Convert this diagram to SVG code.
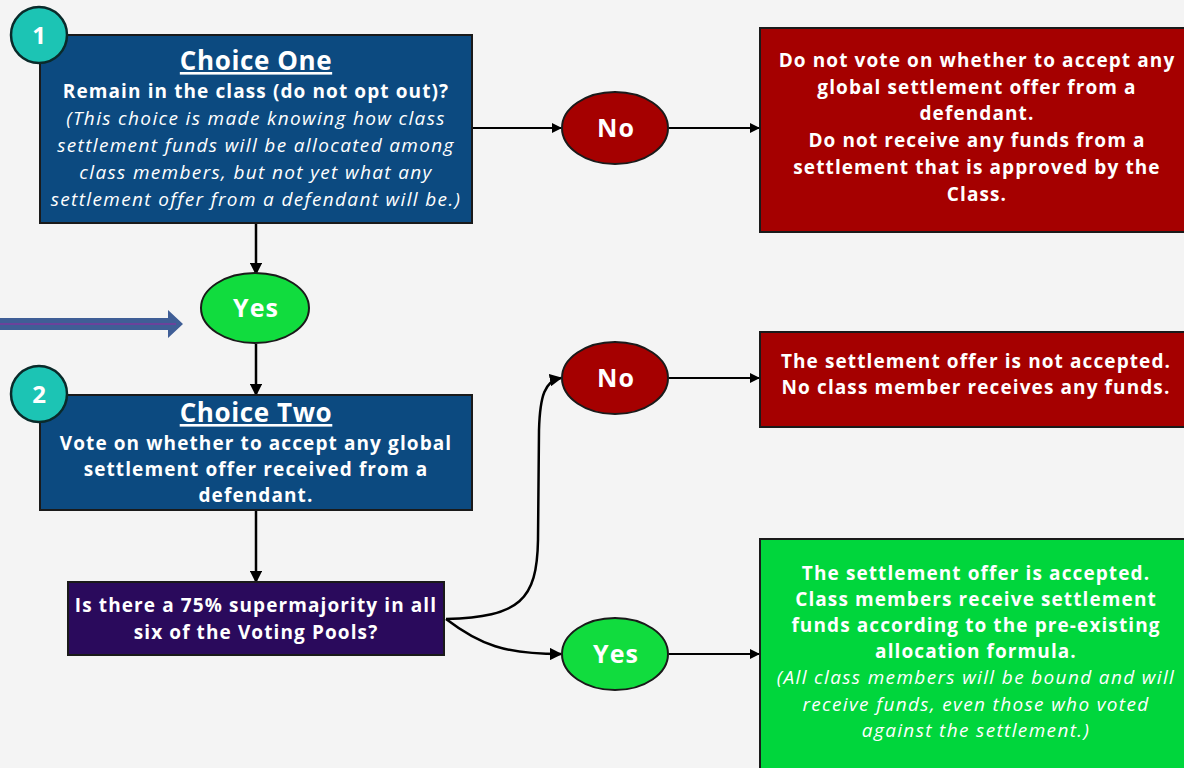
<svg xmlns="http://www.w3.org/2000/svg" width="1184" height="768" viewBox="0 0 1184 768">
<style>
.t{font-family:"Open Sans","Noto Sans","Liberation Sans",sans-serif;fill:#ffffff;text-anchor:middle}
.b{font-weight:bold;letter-spacing:1.1px}
.i{font-style:italic;letter-spacing:1.35px}
.h{font-size:26px;font-weight:bold;text-decoration:underline;letter-spacing:0.6px}
.f{font-size:19px}
.e{font-size:25px;font-weight:bold;letter-spacing:1px}
.box{stroke:#1a1a1a;stroke-width:2}
.con{fill:none;stroke:#000;stroke-width:2.5;marker-end:url(#ah)}
.num{fill:#1cc4b4;stroke:#0a2a2a;stroke-width:2.5}
</style>
<defs>
<marker id="ah" viewBox="0 0 10 10" refX="9" refY="5" markerWidth="5" markerHeight="5" orient="auto" markerUnits="strokeWidth">
<path d="M0,0 L10,5 L0,10 z" fill="#000"/>
</marker>
</defs>
<rect width="1184" height="768" fill="#f4f4f4"/>

<g id="connectors">
<path class="con" d="M256,223 L256,274"/>
<path class="con" d="M256,344 L256,395"/>
<path class="con" d="M256,510 L256,582"/>
<path class="con" d="M472,128 L561,128" style="stroke-width:2"/>
<path class="con" d="M669,128 L759,128" style="stroke-width:2"/>
<path class="con" d="M669,378 L759,378" style="stroke-width:2"/>
<path class="con" d="M669,654 L759,654" style="stroke-width:2"/>
<path class="con" d="M446,619 C520,617 537,600 538,540 L539,430 C540,395 545,381 561,378"/>
<path class="con" d="M446,619 C480,645 505,654 561,654"/>
</g>

<g id="pointer">
<polygon points="0,318 168,318 168,310 183,324 168,338 168,330 0,330" fill="#3f5e96"/>
<line x1="0" y1="324" x2="176" y2="324" stroke="#7b3a9c" stroke-width="1.5"/>
</g>

<g id="choice-one">
<rect class="box" x="40" y="35" width="432" height="188" fill="#0c4a80"/>
<text class="t h" x="256" y="70">Choice One</text>
<text class="t b f" x="256" y="98">Remain in the class (do not opt out)?</text>
<text class="t i f" x="256" y="125">(This choice is made knowing how class</text>
<text class="t i f" x="256" y="152">settlement funds will be allocated among</text>
<text class="t i f" x="256" y="179">class members, but not yet what any</text>
<text class="t i f" x="256" y="206">settlement offer from a defendant will be.)</text>
</g>
<g id="badge-1">
<circle class="num" cx="39" cy="35" r="28"/>
<text class="t" x="39" y="44" font-size="24" font-weight="bold">1</text>
</g>

<g id="no-1">
<ellipse class="box" cx="615" cy="128" rx="53" ry="36" fill="#a50000"/>
<text class="t e" x="616" y="137">No</text>
</g>

<g id="result-no-1">
<rect class="box" x="760" y="28" width="430" height="204" fill="#a50000"/>
<text class="t b f" x="977" y="67">Do not vote on whether to accept any</text>
<text class="t b f" x="977" y="94">global settlement offer from a</text>
<text class="t b f" x="977" y="120">defendant.</text>
<text class="t b f" x="977" y="147">Do not receive any funds from a</text>
<text class="t b f" x="977" y="174">settlement that is approved by the</text>
<text class="t b f" x="977" y="201">Class.</text>
</g>

<g id="yes-1">
<ellipse class="box" cx="255" cy="308" rx="54" ry="35" fill="#11dc3e"/>
<text class="t e" x="256" y="317">Yes</text>
</g>

<g id="choice-two">
<rect class="box" x="40" y="395" width="432" height="115" fill="#0c4a80"/>
<text class="t h" x="256" y="422">Choice Two</text>
<text class="t b f" x="256" y="450">Vote on whether to accept any global</text>
<text class="t b f" x="256" y="476">settlement offer received from a</text>
<text class="t b f" x="256" y="502">defendant.</text>
</g>
<g id="badge-2">
<circle class="num" cx="39" cy="394" r="28"/>
<text class="t" x="39" y="403" font-size="24" font-weight="bold">2</text>
</g>

<g id="supermajority">
<rect class="box" x="68" y="582" width="376" height="73" fill="#2a0a5c"/>
<text class="t b f" x="256" y="612">Is there a 75% supermajority in all</text>
<text class="t b f" x="256" y="639">six of the Voting Pools?</text>
</g>

<g id="no-2">
<ellipse class="box" cx="615" cy="378" rx="53" ry="36" fill="#a50000"/>
<text class="t e" x="616" y="387">No</text>
</g>

<g id="result-no-2">
<rect class="box" x="760" y="332" width="430" height="95" fill="#a50000"/>
<text class="t b f" x="976" y="368">The settlement offer is not accepted.</text>
<text class="t b f" x="976" y="394">No class member receives any funds.</text>
</g>

<g id="yes-2">
<ellipse class="box" cx="615" cy="654" rx="53" ry="36" fill="#11dc3e"/>
<text class="t e" x="616" y="663">Yes</text>
</g>

<g id="result-yes">
<rect class="box" x="760" y="539" width="430" height="240" fill="#00d63c"/>
<text class="t b f" x="976" y="580">The settlement offer is accepted.</text>
<text class="t b f" x="976" y="606">Class members receive settlement</text>
<text class="t b f" x="976" y="632">funds according to the pre-existing</text>
<text class="t b f" x="976" y="658">allocation formula.</text>
<text class="t i f" x="976" y="684">(All class members will be bound and will</text>
<text class="t i f" x="976" y="711">receive funds, even those who voted</text>
<text class="t i f" x="976" y="737">against the settlement.)</text>
</g>
</svg>
